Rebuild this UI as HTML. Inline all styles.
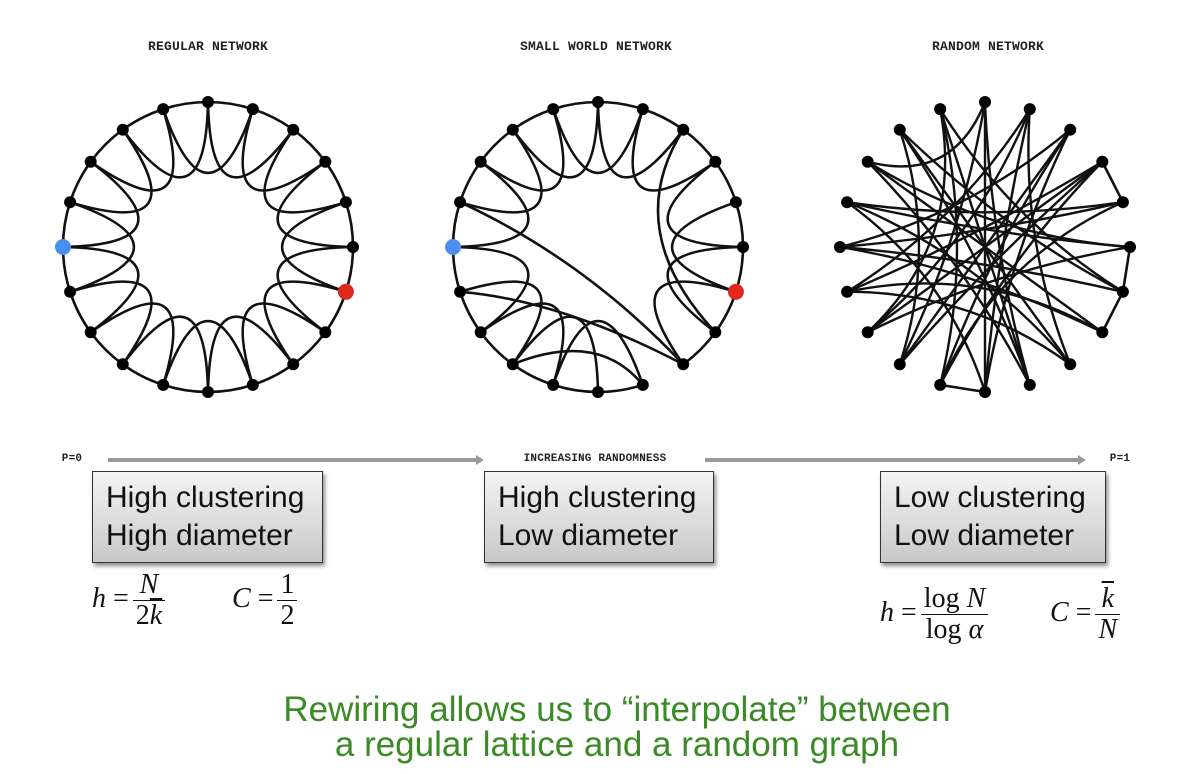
<!DOCTYPE html>
<html><head><meta charset="utf-8"><style>
body{margin:0;width:1177px;height:774px;background:#fff;position:relative;overflow:hidden;font-family:"Liberation Sans",sans-serif}
.t{position:absolute;font-family:"Liberation Mono",monospace;font-size:13px;font-weight:bold;color:#222;transform:translateX(-50%);top:39px;letter-spacing:0.2px}
.box{position:absolute;top:471px;height:92px;border:1px solid #333;background:linear-gradient(#f4f4f4,#c8c8c8);box-shadow:2px 3px 4px rgba(0,0,0,.45);font-size:30px;line-height:38px;padding:7px 0 0 13px;box-sizing:border-box;color:#111;white-space:nowrap}
.m{position:absolute;font-family:"Liberation Serif",serif;font-size:28px;color:#111}
.fr{display:inline-block;vertical-align:middle;text-align:center;margin-left:4px}
.fr span{display:block;padding:0 3px;line-height:30px}
.fr span:first-child{border-bottom:1.5px solid #111}
.i{font-style:italic}
.green{position:absolute;left:0;width:1234px;text-align:center;top:692px;font-size:35px;line-height:35px;color:#3a8a25}
</style></head><body>
<div class="t" style="left:208px">REGULAR NETWORK</div>
<div class="t" style="left:596px">SMALL WORLD NETWORK</div>
<div class="t" style="left:988px">RANDOM NETWORK</div>
<svg id="s" width="1177" height="774" style="position:absolute;left:0;top:0"></svg>
<div class="t" style="left:72px;top:453px;font-size:11px">P=0</div>
<div class="t" style="left:595px;top:453px;font-size:11px">INCREASING RANDOMNESS</div>
<div class="t" style="left:1120px;top:453px;font-size:11px">P=1</div>
<div class="box" style="left:92px;width:231px">High clustering<br>High diameter</div>
<div class="box" style="left:484px;width:230px">High clustering<br>Low diameter</div>
<div class="box" style="left:880px;width:226px">Low clustering<br>Low diameter</div>
<div class="m" style="left:92px;top:570px"><span class="i">h</span> =<div class="fr"><span class="i">N</span><span>2<span class="i" style="text-decoration:overline;display:inline;border:0;padding:0">k</span></span></div></div>
<div class="m" style="left:232px;top:570px"><span class="i">C</span> =<div class="fr"><span>1</span><span>2</span></div></div>
<div class="m" style="left:880px;top:584px"><span class="i">h</span> =<div class="fr"><span>log <span class="i" style="display:inline;border:0;padding:0">N</span></span><span>log <span class="i" style="display:inline;border:0;padding:0">α</span></span></div></div>
<div class="m" style="left:1050px;top:584px"><span class="i">C</span> =<div class="fr"><span class="i" style="text-decoration:overline">k</span><span class="i">N</span></div></div>
<div class="green">Rewiring allows us to “interpolate” between<br>a regular lattice and a random graph</div>
<script>
var s=document.getElementById('s'),h='';
h+='<line x1="108" y1="460" x2="476" y2="460" stroke="#999" stroke-width="4"/><polygon points="476,455 484,460 476,465" fill="#999"/>';
h+='<line x1="705" y1="460" x2="1078" y2="460" stroke="#999" stroke-width="4"/><polygon points="1078,455 1086,460 1078,465" fill="#999"/>';
function P(cx,cy,R,i){var a=(-90+18*i)*Math.PI/180;return[cx+R*Math.cos(a),cy+R*Math.sin(a)];}
function arc(cx,cy,R,i,j){var p=P(cx,cy,R,i),q=P(cx,cy,R,j);return '<path d="M'+p[0]+' '+p[1]+' A'+R+' '+R+' 0 0 1 '+q[0]+' '+q[1]+'" fill="none" stroke="#111" stroke-width="2.6"/>';}
function cur(cx,cy,R,i,j,rc){var p=P(cx,cy,R,i),q=P(cx,cy,R,j);var m=(i+j)/2;var c=P(cx,cy,rc,m);return '<path d="M'+p[0]+' '+p[1]+' C'+P(cx,cy,rc,m-0.9)+' '+P(cx,cy,rc,m+0.9)+' '+q[0]+' '+q[1]+'" fill="none" stroke="#111" stroke-width="2.6"/>';}
function lattice(cx,cy,skipA,skipC){for(var i=0;i<20;i++){if(!(skipA&&skipA.indexOf(i)>=0))h+=arc(cx,cy,145,i,i+1);if(!(skipC&&skipC.indexOf(i)>=0))h+=cur(cx,cy,145,i,i+2,55);}}
function nodes(cx,cy,blue){for(var i=0;i<20;i++){var p=P(cx,cy,145,i);var col='#000',r=6;if(blue&&i==15){col='#4a8ff0';r=8}if(blue&&i==6){col='#e0281e';r=8}h+='<circle cx="'+p[0]+'" cy="'+p[1]+'" r="'+r+'" fill="'+col+'"/>';}}
lattice(208,247);nodes(208,247,1);
var cx=598,cy=247;
lattice(cx,cy,[8],[7,8,14,2]);
function lp(i,j,c){var p=P(cx,cy,145,i),q=P(cx,cy,145,j);h+='<path d="M'+p[0]+' '+p[1]+' Q'+c[0]+' '+c[1]+' '+q[0]+' '+q[1]+'" fill="none" stroke="#111" stroke-width="2.6"/>';}
lp(16,8,[585,260]);lp(14,8,[560,300]);lp(2,7,[620,230]);lp(12,9,[598,330]);
nodes(cx,cy,1);
cx=985;
var E=[[0,9],[0,12],[1,8],[1,13],[2,10],[2,15],[3,4],[3,14],[4,16],[4,11],[5,6],[5,13],[5,17],[6,7],[6,15],[7,14],[8,18],[9,17],[9,19],[10,11],[10,16],[11,2],[12,18],[12,3],[13,19],[14,1],[15,7],[16,8],[17,0],[18,6],[19,11],[1,10],[3,11],[17,7],[15,4],[16,5],[18,9],[13,3],[19,6],[12,2],[14,8],[10,0]];
E.forEach(function(e,k){var p=P(cx,cy,145,e[0]),q=P(cx,cy,145,e[1]);var d=Math.abs(e[0]-e[1]);if(d==1){h+='<line x1="'+p[0]+'" y1="'+p[1]+'" x2="'+q[0]+'" y2="'+q[1]+'" stroke="#111" stroke-width="2.6"/>';return;}var mx=(p[0]+q[0])/2,my=(p[1]+q[1])/2;var f=(k%3==0)?0.75:0.45;var c=[mx+(cx-mx)*f,my+(cy-my)*f];h+='<path d="M'+p[0]+' '+p[1]+' Q'+c[0]+' '+c[1]+' '+q[0]+' '+q[1]+'" fill="none" stroke="#111" stroke-width="2.4"/>';});
nodes(cx,cy,0);
s.innerHTML=h;
</script>
</body></html>
